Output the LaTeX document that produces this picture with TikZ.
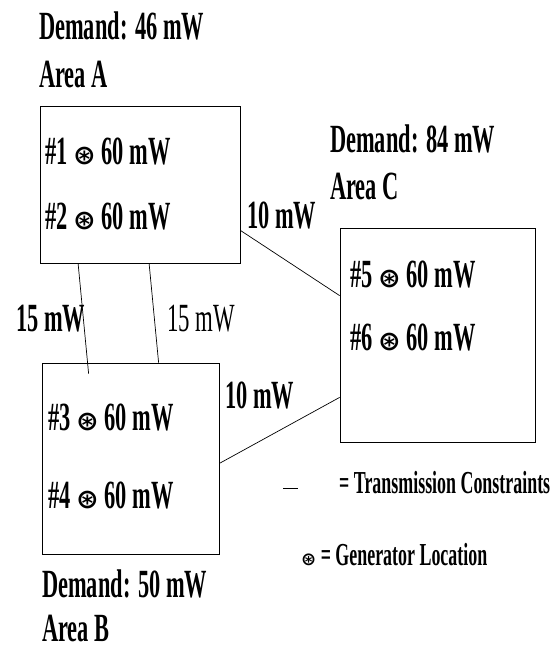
\documentclass[tikz,border=0pt]{standalone}
\usepackage{fontspec}
\setmainfont{Liberation Serif}[FakeStretch=0.56]
\newfontfamily\plainfont{Liberation Serif}[FakeStretch=0.57]
\newfontfamily\symfont{DejaVu Sans}
\usetikzlibrary{calc}

% generator marker: circled asterisk
\newcommand\genmark{{\symfont\fontsize{27}{27}\selectfont ⊛}}

\tikzset{
  area/.style={draw, line width=0.8pt, inner sep=0pt},
  big/.style={inner sep=0pt, anchor=base west, font=\fontsize{40}{42}\selectfont\bfseries},
  thin/.style={inner sep=0pt, anchor=base west, font=\plainfont\fontsize{40}{42}\selectfont},
  legend/.style={inner sep=0pt, anchor=base west, font=\fontsize{32}{34}\selectfont\bfseries},
  tie/.style={line width=0.7pt}
}

\begin{document}
\begin{tikzpicture}[x=1pt, y=-1pt]
  \useasboundingbox (0,0) rectangle (560,649);

  % the three areas
  \node[area, minimum width=200pt, minimum height=157pt] (A) at (140,184.5) {};
  \node[area, minimum width=195pt, minimum height=214pt] (C) at (437.5,335) {};
  \node[area, minimum width=177pt, minimum height=191pt] (B) at (130.5,458.5) {};

  % area A
  \node[big] (dA) at (39,39) {Demand: 46 mW};
  \node[big] (nA) at (39,87) {Area A};
  \node[big] (g1) at (45,164) {\#1 \genmark\ 60 mW};
  \node[big] (g2) at (45,229) {\#2 \genmark\ 60 mW};

  % area C
  \node[big] (dC) at (330,152) {Demand: 84 mW};
  \node[big] (nC) at (330,199) {Area C};
  \node[big] (g5) at (350,287) {\#5 \genmark\ 60 mW};
  \node[big] (g6) at (350,350) {\#6 \genmark\ 60 mW};

  % area B
  \node[big] (g3) at (48,430) {\#3 \genmark\ 60 mW};
  \node[big] (g4) at (48,508) {\#4 \genmark\ 60 mW};
  \node[big] (dB) at (42,597) {Demand: 50 mW};
  \node[big] (nB) at (42,641) {Area B};

  % transmission ties
  \coordinate (ac1) at ([yshift=33pt]A.south east);
  \coordinate (ac2) at ([yshift=-68pt]C.north west);
  \coordinate (bc1) at ([yshift=91pt]B.south east);
  \coordinate (bc2) at ([yshift=45pt]C.south west);
  \coordinate (ab1) at ([xshift=38.5pt]A.south west);
  \coordinate (ab2) at ([xshift=47pt, yshift=-11pt]B.north west);
  \coordinate (ab3) at ([xshift=109.5pt]A.south west);
  \coordinate (ab4) at ([xshift=117pt]B.north west);

  \draw[tie] (ac1) -- (ac2);
  \draw[tie] (bc1) -- (bc2);
  \draw[tie] (ab1) -- (ab2);
  \draw[tie] (ab3) -- (ab4);

  % tie limits
  \node[big] (lAC) at (247,228) {10 mW};
  \node[big] (lBC) at (225,408) {10 mW};
  \node[big] (lAB1) at (16,331) {15 mW};
  \node[thin] (lAB2) at (167,331) {15 mW};

  % legend
  \coordinate (k1) at (283,488);
  \coordinate (k2) at (298,488);
  \draw[tie] (k1) -- (k2);
  \node[legend] (kt) at (339,493) {= Transmission Constraints};
  \node[legend] (kg) at (301,565) {{\symfont\fontsize{18}{18}\selectfont ⊛} = Generator Location};
\end{tikzpicture}
\end{document}
